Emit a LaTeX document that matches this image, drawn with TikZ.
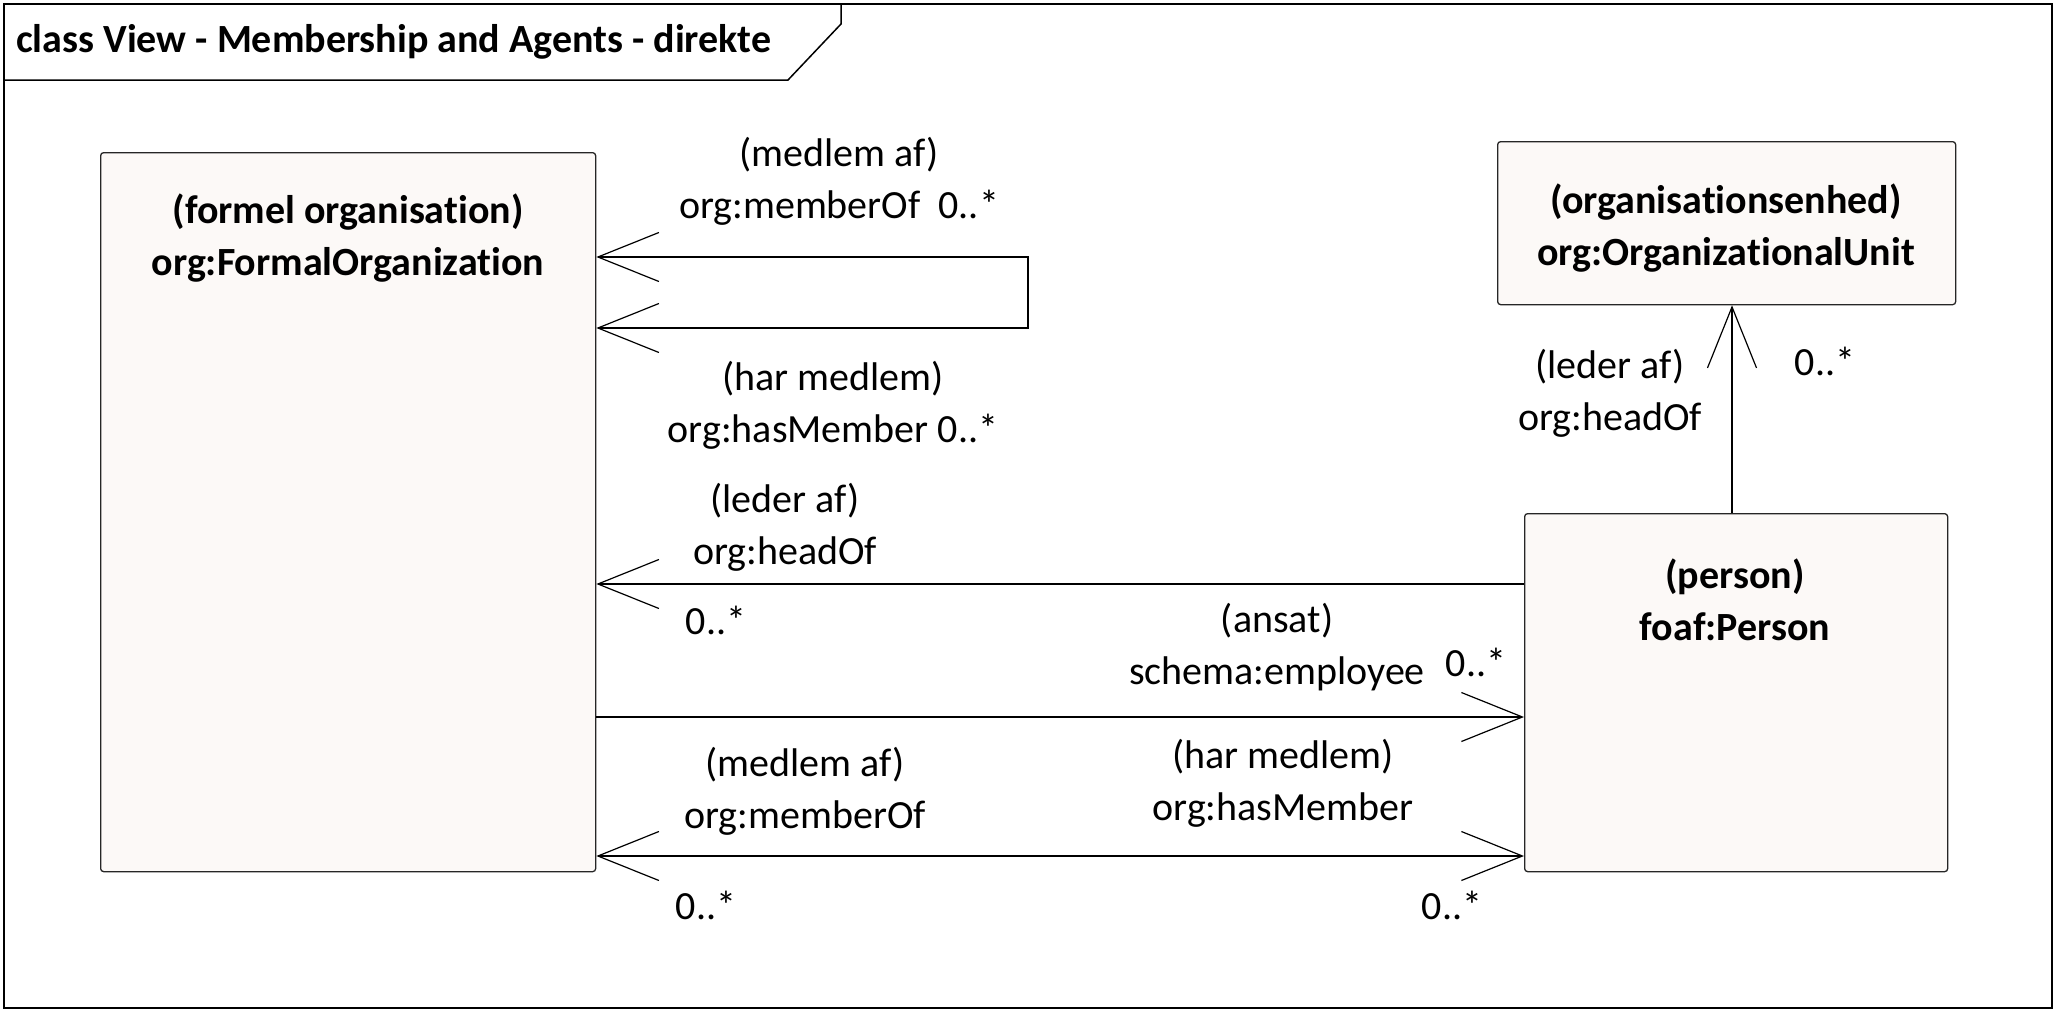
\documentclass[tikz,border=0pt]{standalone}
\usepackage{fontspec}
\setmainfont{Carlito}[RawFeature={-liga;-clig;-calt;-dlig;-rlig}]
\usetikzlibrary{arrows.meta}
\definecolor{boxfill}{RGB}{252,249,247}
\newcommand{\tiFix}{t\kern0pt i}
\tikzset{
  lbl/.style={font=\fontsize{40}{52}\selectfont, align=center, inner sep=0pt},
  clsname/.style={font=\fontsize{40}{52}\selectfont\bfseries, align=center, inner sep=0pt},
  clsbox/.style={draw=black!85, fill=boxfill, line width=1.3pt, rounded corners=3pt, inner sep=0pt, anchor=north west},
  conn/.style={line width=1.2pt, black},
  opentip/.tip={Straight Barb[length=61pt, width=49pt, line width=1.2pt]},
}
\begin{document}
\begin{tikzpicture}[x=1pt, y=-1pt]
\useasboundingbox (0,0) rectangle (2056,1012);
% frame
\draw[line width=2pt] (4,4) rectangle (2052,1008);
\draw[line width=1.5pt] (4,80) -- (788,80) -- (841,24) -- (841,4);
\node[font=\fontsize{40}{52}\selectfont\bfseries, anchor=west, inner sep=0pt] (title) at (16,42) {class View - Membership and Agents - direkte};
% classes
\node[clsbox, minimum width=495pt, minimum height=719pt] (fo) at (100,152) {};
\node[clsname] (fotxt) at (348,238) {(formel organisa\tiFix on)\\org:FormalOrganiza\tiFix on};
\node[clsbox, minimum width=458pt, minimum height=163pt] (ou) at (1497,141) {};
\node[clsname] (outxt) at (1726,228) {(organisa\tiFix onsenhed)\\org:Organiza\tiFix onalUnit};
\node[clsbox, minimum width=423pt, minimum height=358pt] (person) at (1524,513) {};
\node[clsname] (persontxt) at (1735,600) {(person)\\foaf:Person};
% y levels
\coordinate (la) at (1028,257);
\coordinate (lb) at (1028,328);
\coordinate (yhead) at (0,584);
\coordinate (yemp) at (0,717);
\coordinate (ymem) at (0,856);
\coordinate (xv) at (1732,0);
% connectors
\draw[conn, {opentip}-{opentip}] (fo.east |- la) -- (la) -- (lb) -- (fo.east |- lb);
\draw[conn, {opentip}-] (fo.east |- yhead) -- (person.west |- yhead);
\draw[conn, -{opentip}] (fo.east |- yemp) -- (person.west |- yemp);
\draw[conn, {opentip}-{opentip}] (fo.east |- ymem) -- (person.west |- ymem);
\draw[conn, -{opentip}] (person.north -| xv) -- (ou.south -| xv);
% labels
\node[lbl] (l1) at (839,181) {(medlem af)\\org:memberOf\ \ 0..*};
\node[lbl] (l2) at (833,405) {(har medlem)\\org:hasMember 0..*};
\node[lbl] (l3) at (785,527) {(leder af)\\org:headOf};
\node[lbl] (m3) at (716,620) {0..*};
\node[lbl] (l4) at (1277,647) {(ansat)\\schema:employee};
\node[lbl] (m4) at (1476,662) {0..*};
\node[lbl] (l5) at (805,791) {(medlem af)\\org:memberOf};
\node[lbl] (l6) at (1283,783) {(har medlem)\\org:hasMember};
\node[lbl] (m5) at (706,905) {0..*};
\node[lbl] (m6) at (1452,905) {0..*};
\node[lbl] (l7) at (1610,393) {(leder af)\\org:headOf};
\node[lbl] (m7) at (1825,361) {0..*};
\end{tikzpicture}
\end{document}
